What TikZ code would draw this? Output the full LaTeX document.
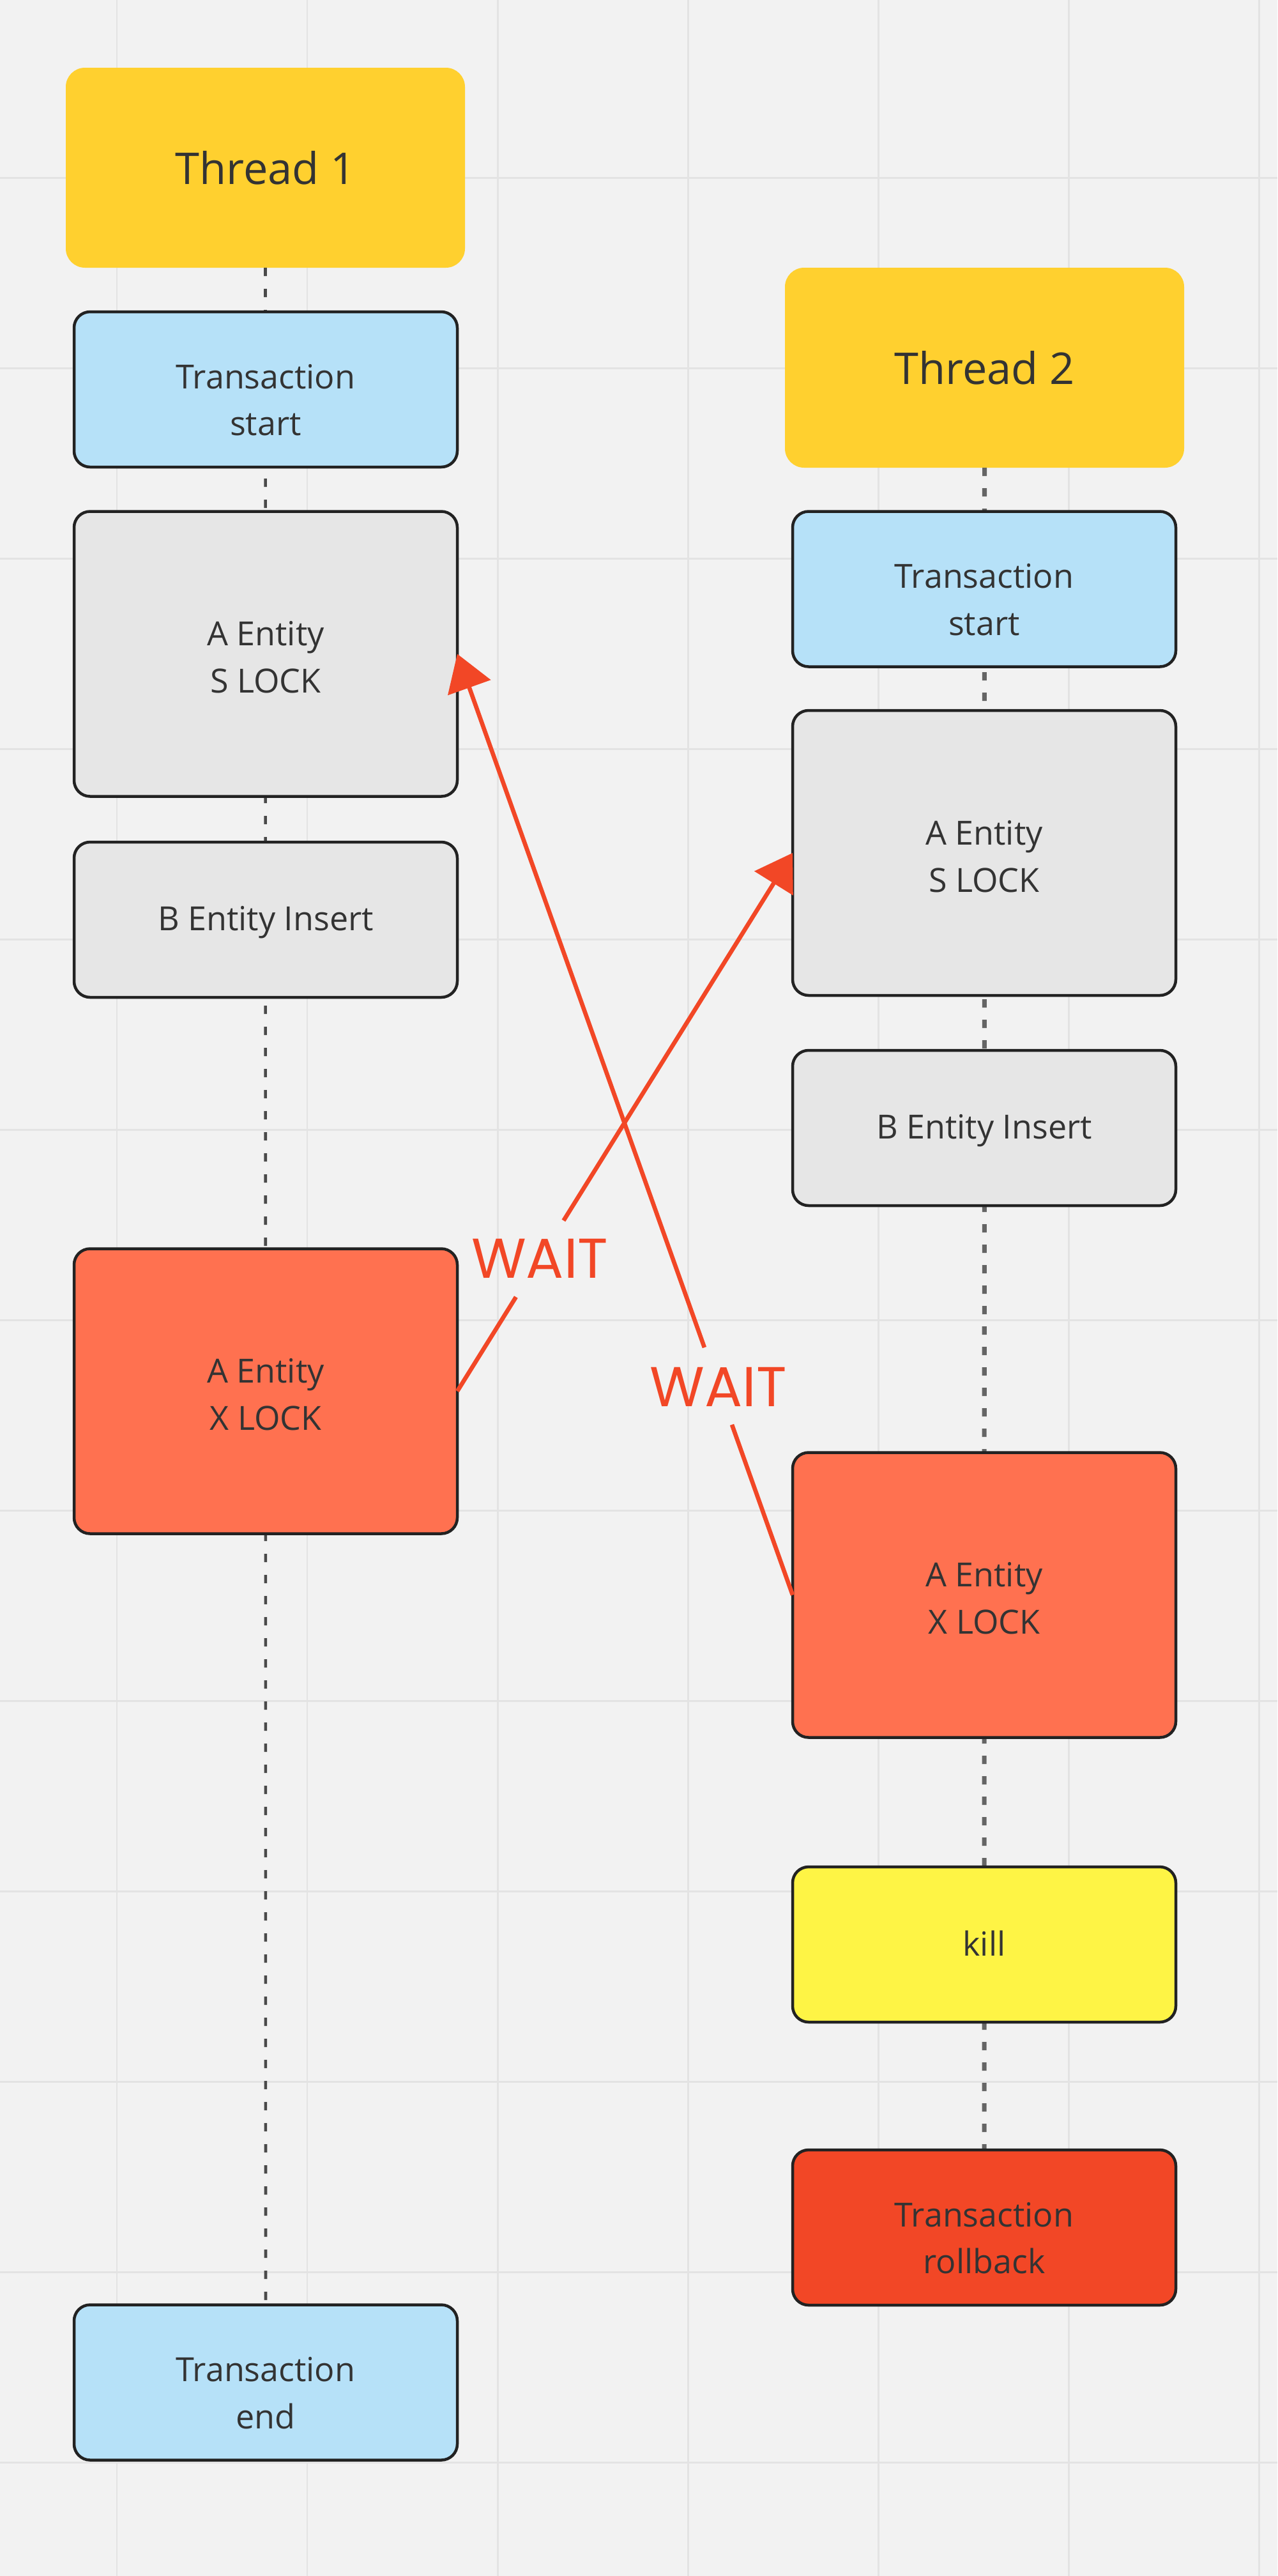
\documentclass[tikz,border=0pt]{standalone}
\usepackage{fontspec}
\setmainfont{Open Sans}
\newfontfamily\waitfont{Poppins}
\usetikzlibrary{arrows.meta,calc}
\definecolor{bg}{HTML}{F2F2F2}
\definecolor{gridc}{HTML}{E3E3E3}
\definecolor{threadyellow}{HTML}{FFD02F}
\definecolor{lightblue}{HTML}{B6E1F8}
\definecolor{lightgray}{HTML}{E6E6E6}
\definecolor{lockorange}{HTML}{FF7150}
\definecolor{killyellow}{HTML}{FEF445}
\definecolor{rollred}{HTML}{F24726}
\definecolor{waitred}{HTML}{F24726}
\definecolor{boxborder}{HTML}{222222}
\definecolor{txt}{HTML}{333333}
\definecolor{lifec}{HTML}{4A4A4A}
\newcommand{\smtop}{\rule{0pt}{20.3pt}}
\newcommand{\bgtop}{\rule{0pt}{14pt}}
\newcommand{\oneln}{\rule[-3pt]{0pt}{16pt}}
\begin{document}
\begin{tikzpicture}[
  gridline/.style={draw=gridc, line width=0.85pt},
  box/.style={draw=boxborder, line width=1.28pt, rounded corners=0.25cm,
    minimum width=6.0cm, align=center, inner sep=0pt, outer sep=0pt,
    text=txt, font=\fontsize{14.8pt}{21pt}\selectfont},
  smallbox/.style={box, minimum height=2.43cm},
  bigbox/.style={box, minimum height=4.46cm},
  threadbox/.style={fill=threadyellow, rounded corners=0.3cm,
    minimum width=6.25cm, minimum height=3.13cm, inner sep=0pt, outer sep=0pt,
    text=txt, font=\fontsize{19.5pt}{24pt}\selectfont},
  lifeone/.style={draw=lifec, line width=1.3pt, dash pattern=on 0.13cm off 0.2cm},
  lifetwo/.style={draw=lifec!85, line width=2pt, dash pattern=on 0.13cm off 0.19cm},
  waitline/.style={draw=waitred, line width=1.9pt},
  waittip/.style={-{Triangle[length=0.56cm,width=0.70cm]}},
  waitlbl/.style={text=waitred, inner sep=0pt, font=\waitfont\fontsize{25pt}{30pt}\selectfont}
]
\fill[bg] (0,0) rectangle (20,-40.32);
\useasboundingbox (0,0) rectangle (20,-40.32);
\foreach \k in {0,...,6} \draw[gridline] ({1.83+2.98*\k},0) -- ++(0,-40.32);
\foreach \k in {0,...,12} \draw[gridline] (0,{-2.78-2.98*\k}) -- ++(20,0);

% Thread headers
\node[threadbox] (th1) at (4.155,-2.625) {Thread 1};
\node[threadbox] (th2) at (15.415,-5.755) {Thread 2};

% end boxes of the lifelines
\coordinate (te1c) at (4.16,-37.29);
\coordinate (rb2c) at (15.41,-34.865);
\draw[lifeone] (th1.south) -- ($(te1c)+(0,1.2)$);
\draw[lifetwo] (th2.south) -- ($(rb2c)+(0,1.2)$);

% Thread 1 column
\node[smallbox, fill=lightblue] (ts1) at (4.16,-6.095) {\smtop Transaction\\start};
\node[bigbox, fill=lightgray] (sl1) at (4.16,-10.235) {\bgtop A Entity\\S LOCK};
\node[smallbox, fill=lightgray] (bi1) at (4.16,-14.395) {\oneln B Entity Insert};
\node[bigbox, fill=lockorange] (xl1) at (4.16,-21.775) {\bgtop A Entity\\X LOCK};
\node[smallbox, fill=lightblue] (te1) at (te1c) {\smtop Transaction\\end};

% Thread 2 column
\node[smallbox, fill=lightblue] (ts2) at (15.41,-9.22) {\smtop Transaction\\start};
\node[bigbox, fill=lightgray] (sl2) at (15.41,-13.35) {\bgtop A Entity\\S LOCK};
\node[smallbox, fill=lightgray] (bi2) at (15.41,-17.655) {\oneln B Entity Insert};
\node[bigbox, fill=lockorange] (xl2) at (15.41,-24.965) {\bgtop A Entity\\X LOCK};
\node[smallbox, fill=killyellow] (kill2) at (15.41,-30.435) {\oneln kill};
\node[smallbox, fill=rollred] (rb2) at (rb2c) {\smtop Transaction\\rollback};

% WAIT arrows
\draw[waitline] (xl1.east) -- ($(xl1.east)!0.175!(sl2.west)$);
\draw[waitline, waittip] ($(xl1.east)!0.317!(sl2.west)$) -- (sl2.west);
\node[waitlbl] (w1) at ($(xl1.east)!0.246!(sl2.west)$) {WAIT};

\draw[waitline] (xl2.west) -- ($(xl2.west)!0.181!(sl1.east)$);
\draw[waitline, waittip] ($(xl2.west)!0.263!(sl1.east)$) -- (sl1.east);
\node[waitlbl] (w2) at ($(xl2.west)!0.221!(sl1.east)$) {WAIT};
\end{tikzpicture}
\end{document}
